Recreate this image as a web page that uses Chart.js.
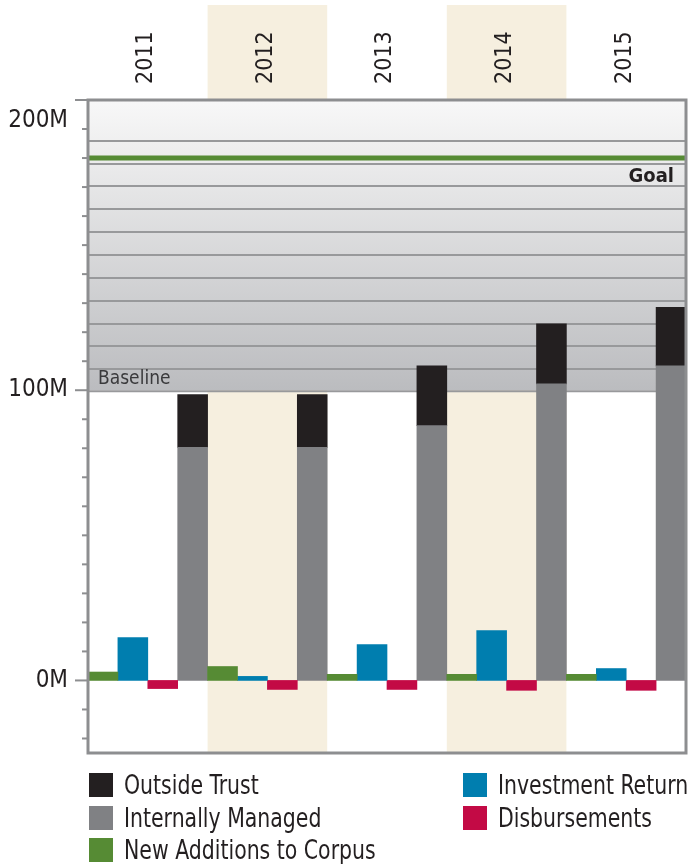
<!DOCTYPE html>
<html><head><meta charset="utf-8">
<script src="https://cdn.jsdelivr.net/npm/chart.js@4.4.1/dist/chart.umd.min.js"></script>
<style>
html,body{margin:0;padding:0;background:#fff;}
#wrap{position:relative;width:692px;height:864px;overflow:hidden;}
#c{position:absolute;left:0;top:0;}
.lg{position:absolute;font-family:"DejaVu Sans Condensed",sans-serif;font-size:26px;color:#231f20;white-space:nowrap;height:24px;line-height:24px;}
.lg i{position:absolute;left:0;top:0;width:24px;height:24px;}
.lg span{position:absolute;left:35px;top:0;transform:scaleX(0.875);transform-origin:0 50%;}
</style></head>
<body><div id="wrap"><canvas id="c" width="692" height="864"></canvas><div id="legend"></div></div>
<script>
// ---- data (values in millions) ----
const years = ['2011', '2012', '2013', '2014', '2015'];
const newAdditions = [2.9, 4.8, 2.1, 2.1, 2.1];
const investmentReturn = [14.8, 1.4, 12.4, 17.2, 4.1];
const disbursements = [-2.8, -3.1, -3.1, -3.4, -3.4];
const internallyManaged = [80.3, 80.3, 87.8, 102.2, 108.4];
const outsideTrust = [18.2, 18.2, 20.6, 20.7, 20.2];
const yTickLabels = ['0M', '100M', '200M'];
const baselineValue = 100;
const goalValue = 180;
const shadedYears = ['2012', '2014'];

const FONT = '"DejaVu Sans Condensed",sans-serif';
const C = {green:'#568b34', blue:'#007eaf', red:'#c30a45', gray:'#808184', black:'#231f20'};

const decor = {
  id: 'decor',
  beforeDraw(chart) {
    const {ctx, chartArea: a, scales: {x}} = chart;
    const w = x.getPixelForValue(1) - x.getPixelForValue(0);
    ctx.save();
    ctx.fillStyle = '#f6efdf';
    shadedYears.forEach(yr => {
      const cx = x.getPixelForValue(years.indexOf(yr));
      ctx.fillRect(cx - w / 2, 5, w, a.bottom - 5);
    });
    ctx.restore();
  },
  beforeDatasetsDraw(chart) {
    const {ctx, chartArea: a, scales: {y}} = chart;
    const yTop = y.getPixelForValue(200), yBot = y.getPixelForValue(baselineValue);
    ctx.save();
    const g = ctx.createLinearGradient(0, yTop, 0, yBot);
    g.addColorStop(0, '#f8f8f8');
    g.addColorStop(1, '#bbbcbf');
    ctx.fillStyle = g;
    ctx.fillRect(a.left, yTop, a.right - a.left, yBot - yTop);
    ctx.strokeStyle = '#98999b';
    ctx.lineWidth = 2;
    for (let k = 0; k < 11; k++) {
      const py = Math.round(y.getPixelForValue(107.2 + k * 7.88));
      ctx.beginPath(); ctx.moveTo(a.left, py); ctx.lineTo(a.right, py); ctx.stroke();
    }
    ctx.beginPath(); ctx.moveTo(a.left, yBot + 1); ctx.lineTo(a.right, yBot + 1); ctx.stroke();
    const gy = y.getPixelForValue(goalValue);
    ctx.strokeStyle = C.green; ctx.lineWidth = 5;
    ctx.beginPath(); ctx.moveTo(a.left, gy); ctx.lineTo(a.right, gy); ctx.stroke();
    ctx.fillStyle = '#3a3a3c';
    ctx.font = '19px ' + FONT;
    ctx.textBaseline = 'middle';
    ctx.textAlign = 'left';
    ctx.fillText('Baseline', a.left + 10, yBot - 11);
    ctx.fillStyle = '#231f20';
    ctx.font = 'bold 20px ' + FONT;
    ctx.textAlign = 'right';
    ctx.fillText('Goal', a.right - 12, gy + 19);
    ctx.restore();
  },
  afterDatasetsDraw(chart) {
    const {ctx, chartArea: a, scales: {y}} = chart;
    ctx.save();
    ctx.strokeStyle = '#8d8e90';
    ctx.lineWidth = 2;
    for (let v = -20; v <= 200; v += 10) {
      const py = y.getPixelForValue(v);
      const len = v % 100 === 0 ? 13 : 6;
      ctx.beginPath(); ctx.moveTo(a.left - len, py); ctx.lineTo(a.left, py); ctx.stroke();
    }
    ctx.lineWidth = 3;
    ctx.strokeRect(a.left, a.top, a.right - a.left, a.bottom - a.top);
    ctx.restore();
  }
};

const ds = (label, data, color, stack) => ({label, data, backgroundColor: color, stack,
  borderWidth: 0, barPercentage: 1, categoryPercentage: 1});

new Chart(document.getElementById('c'), {
  type: 'bar',
  data: {
    labels: years,
    datasets: [
      ds('New Additions to Corpus', newAdditions, C.green, 'a'),
      ds('Investment Return', investmentReturn, C.blue, 'b'),
      ds('Disbursements', disbursements, C.red, 'c'),
      ds('Internally Managed', internallyManaged, C.gray, 'd'),
      ds('Outside Trust', outsideTrust, C.black, 'd')
    ]
  },
  options: {
    responsive: false, animation: false, devicePixelRatio: 1,
    layout: {padding: {left: 0, top: 0, right: 6, bottom: 111}},
    plugins: {legend: {display: false}, tooltip: {enabled: false}},
    scales: {
      x: {
        position: 'top',
        grid: {display: false, drawTicks: false}, border: {display: false},
        ticks: {minRotation: 90, maxRotation: 90, padding: 16, autoSkip: false, labelOffset: 26,
          color: '#231f20', font: {family: FONT, size: 23}},
        afterFit(s) { s.height = 100; }
      },
      y: {
        min: -25, max: 200, stacked: true,
        grid: {display: false, drawTicks: false}, border: {display: false},
        ticks: {
          stepSize: 10, autoSkip: false, padding: 20, color: '#231f20',
          callback(v) {
            if (v % 100 !== 0) return '';
            const lbl = yTickLabels[v / 100];
            return v === 200 ? ['', lbl] : lbl;
          },
          font(ctx) {
            return ctx.tick && ctx.tick.value === 200
              ? {family: FONT, size: 24, lineHeight: 1.75}
              : {family: FONT, size: 24};
          }
        },
        afterFit(s) { s.width = 88; }
      }
    }
  },
  plugins: [decor]
});

// HTML legend (two columns as in the reference)
const legendCols = [
  {left: 89, items: [['Outside Trust', C.black], ['Internally Managed', C.gray], ['New Additions to Corpus', C.green]]},
  {left: 463, items: [['Investment Return', C.blue], ['Disbursements', C.red]]}
];
const lg = document.getElementById('legend');
legendCols.forEach(col => col.items.forEach((it, i) => {
  const d = document.createElement('div');
  d.className = 'lg';
  d.style.left = col.left + 'px';
  d.style.top = (773 + i * 32.5) + 'px';
  d.innerHTML = '<i style="background:' + it[1] + '"></i><span></span>';
  d.querySelector('span').textContent = it[0];
  lg.appendChild(d);
}));
</script>
</body></html>
